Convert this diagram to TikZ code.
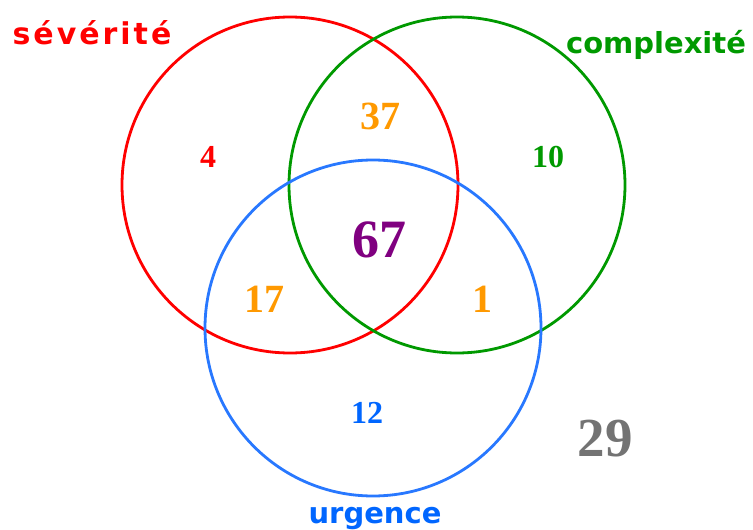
\documentclass[tikz,border=0pt]{standalone}
\usepackage{fontspec}
\usepackage{xcolor}
\usepackage{tikz}

\newfontfamily\lblfont{DejaVu Sans}
\newfontfamily\lblfontwide{DejaVu Sans}[LetterSpace=10]
\newfontfamily\numfont{Liberation Serif}

\definecolor{sevred}{RGB}{255,0,0}
\definecolor{cplgreen}{RGB}{0,153,0}
\definecolor{urgblue}{RGB}{40,120,255}
\definecolor{urgtext}{RGB}{0,102,255}
\definecolor{pairorange}{RGB}{255,153,0}
\definecolor{allpurple}{RGB}{128,0,128}
\definecolor{nonegray}{RGB}{115,115,115}

\tikzset{
  setring/.style={circle,draw=#1,line width=2.8pt,minimum size=336pt,inner sep=0pt},
  setlbl/.style={anchor=base,inner sep=0pt,text=#1},
  numlbl/.style={inner sep=0pt,font=\numfont\bfseries\fontsize{#1}{#1}\selectfont},
}

\begin{document}
\begin{tikzpicture}[x=1pt,y=-1pt]
  \useasboundingbox (0,0) rectangle (753,530);
  % the three sets
  \node[setring=sevred]   (sev) at (290,185) {};
  \node[setring=cplgreen] (cpl) at (457,185) {};
  \node[setring=urgblue]  (urg) at (373,328) {};
  % set names
  \node[setlbl=sevred,font=\lblfontwide\bfseries\fontsize{30}{30}\selectfont] (sevname) at (92,45) {sévérité};
  \node[setlbl=cplgreen,font=\lblfont\bfseries\fontsize{29}{29}\selectfont] (cplname) at (656,53) {complexité};
  \node[setlbl=urgtext,font=\lblfont\bfseries\fontsize{29}{29}\selectfont] (urgname) at (375,523) {urgence};
  % counts
  \node[numlbl=32,text=sevred]     (nsev)    at (208,157) {4};
  \node[numlbl=32,text=cplgreen]   (ncpl)    at (548,157) {10};
  \node[numlbl=32,text=urgtext]    (nurg)    at (367,413) {12};
  \node[numlbl=40,text=pairorange] (nsevcpl) at (380,116) {37};
  \node[numlbl=40,text=pairorange] (nsevurg) at (264,299) {17};
  \node[numlbl=40,text=pairorange] (ncplurg) at (482,299) {1};
  \node[numlbl=54,text=allpurple]  (nall)    at (379,240) {67};
  \node[numlbl=55,text=nonegray]   (nnone)   at (605,439) {29};
\end{tikzpicture}
\end{document}
